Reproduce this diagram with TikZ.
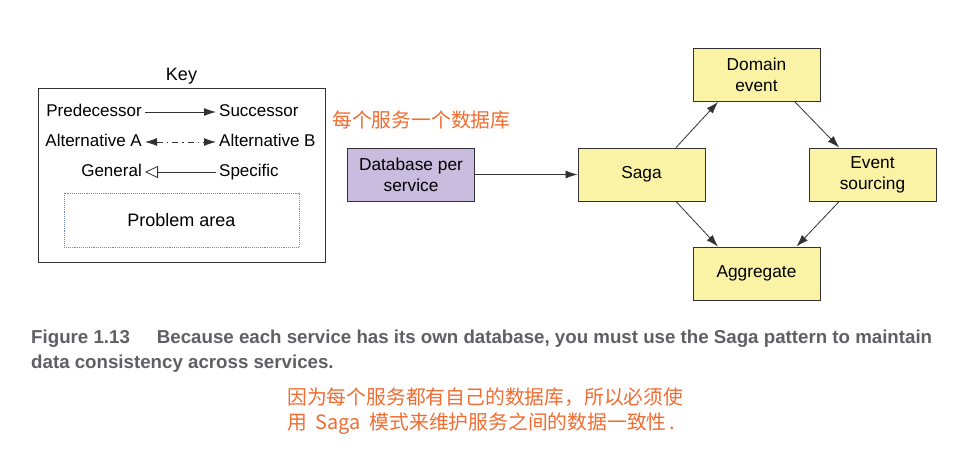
\documentclass[tikz,border=0pt]{standalone}
\usepackage{fontspec}
\setmainfont{Liberation Sans}
\newfontfamily\cjk{Noto Sans CJK SC}
\usetikzlibrary{arrows.meta}

\definecolor{noteorange}{RGB}{240,108,48}
\definecolor{dbpurple}{RGB}{202,188,222}
\definecolor{pattyellow}{RGB}{250,242,165}
\definecolor{linegray}{RGB}{50,50,50}
\definecolor{capgray}{RGB}{95,95,100}

\tikzset{
    pattern/.style={draw=linegray, line width=0.9pt, fill=pattyellow, minimum width=127pt,
        minimum height=53pt, inner sep=0pt, align=center, font=\fontsize{17.3}{21}\selectfont},
    keytext/.style={inner sep=3pt, text height=12.5pt, text depth=3.5pt, font=\fontsize{17}{20}\selectfont},
    flow/.style={->, line width=0.8pt, draw=linegray},
    note/.style={text=noteorange, font=\cjk\fontsize{19.8}{27}\selectfont, inner sep=0pt},
    captext/.style={anchor=west, inner sep=0pt, text=capgray, font=\bfseries\fontsize{18.7}{22}\selectfont},
}

\begin{document}
\begin{tikzpicture}[x=1pt, y=-1pt, >={Latex[length=12pt, width=8pt]}]
    \useasboundingbox (0,0) rectangle (964,458);

    % key
    \node[draw=linegray, line width=0.9pt, minimum width=287pt, minimum height=174pt, inner sep=0pt,
        label={[font=\fontsize{18}{20}\selectfont, inner sep=3pt]above:Key}] (key) at (181.5,175) {};
    \node[keytext, anchor=east] (pred) at (145,112) {Predecessor};
    \node[keytext, anchor=west] (succ) at (216,112) {Successor};
    \node[keytext, anchor=east] (altA) at (145,142) {Alternative A};
    \node[keytext, anchor=west] (altB) at (216,142) {Alternative B};
    \node[keytext, anchor=east] (general) at (145,172) {General};
    \node[keytext, anchor=west] (specific) at (216,172) {Specific};
    \draw[flow] (pred) -- (succ);
    \draw[flow, <->, dash pattern=on 6pt off 4pt on 1.5pt off 4pt] (altA) -- (altB);
    \draw[line width=0.8pt, draw=linegray, -{Triangle[open, length=13pt, width=12pt]}] (specific) -- (general);
    \node[draw={rgb,255:red,110;green,135;blue,185}, densely dotted, line width=0.9pt,
        minimum width=235pt, minimum height=54pt, font=\fontsize{18}{20}\selectfont] (problem) at (181.5,220) {Problem area};

    % patterns
    \node[note, anchor=west] (dbnote) at (332,120) {每个服务一个数据库};
    \node[pattern, fill=dbpurple] (db) at (411,174.5) {Database per\\service};
    \node[pattern] (saga) at (641.5,174.5) {Saga};
    \node[pattern] (domain) at (756.5,75) {Domain\\event};
    \node[pattern] (sourcing) at (872.5,174.5) {Event\\sourcing};
    \node[pattern] (aggregate) at (756.5,273.5) {Aggregate};

    \draw[flow] (db) -- (saga);
    \draw[flow] (saga.38) -- (domain.215);
    \draw[flow] (domain.325) -- (sourcing.141);
    \draw[flow] (saga.322) -- (aggregate.145);
    \draw[flow] (sourcing.219) -- (aggregate.34);

    % caption
    \node[captext] (capA) at (31,339)
        {Figure 1.13\hspace{27pt}Because each service has its own database, you must use the Saga pattern to maintain};
    \node[captext] (capB) at (31,364) {data consistency across services.};
    \node[note, anchor=west] (cnA) at (287,397) {因为每个服务都有自己的数据库，所以必须使};
    \node[note, anchor=west] (cnB) at (287,424) {用\ \ Saga\ \ 模式来维护服务之间的数据一致性\,.};
\end{tikzpicture}
\end{document}
